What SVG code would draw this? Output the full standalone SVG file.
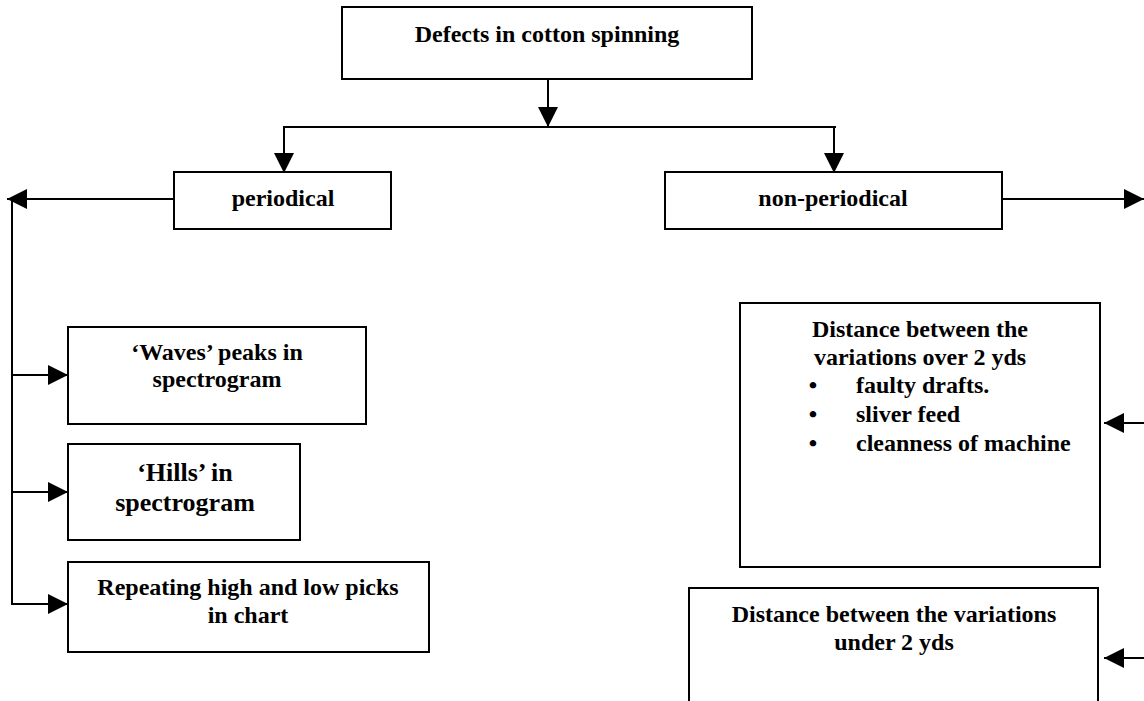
<svg xmlns="http://www.w3.org/2000/svg" width="1144" height="701" viewBox="0 0 1144 701">
  <style>
    .box { fill: #ffffff; stroke: #000000; stroke-width: 2; }
    .conn { fill: none; stroke: #000000; stroke-width: 2; }
    .t { font-family: "Liberation Serif", "Times New Roman", serif; font-weight: bold; font-size: 24px; fill: #000000; text-anchor: middle; }
    .tl { text-anchor: start; }
    .big { font-size: 26px; }
  </style>
  <defs>
    <marker id="arr" markerUnits="userSpaceOnUse" markerWidth="20" markerHeight="20" refX="20" refY="10" orient="auto" viewBox="0 0 20 20">
      <path d="M0,0 L20,10 L0,20 Z" fill="#000000"/>
    </marker>
  </defs>
  <rect width="1144" height="701" fill="#ffffff"/>

  <g id="connectors">
    <path class="conn" d="M548,79 V127" marker-end="url(#arr)"/>
    <path class="conn" d="M283,127 H836"/>
    <path class="conn" d="M284,127 V173" marker-end="url(#arr)"/>
    <path class="conn" d="M834,127 V173" marker-end="url(#arr)"/>
    <path class="conn" d="M174,199 H7" marker-end="url(#arr)"/>
    <path class="conn" d="M12,200 V604"/>
    <path class="conn" d="M11,375 H68" marker-end="url(#arr)"/>
    <path class="conn" d="M11,492 H68" marker-end="url(#arr)"/>
    <path class="conn" d="M11,604 H68" marker-end="url(#arr)"/>
    <path class="conn" d="M1003,199 H1144" marker-end="url(#arr)"/>
    <path class="conn" d="M1144,423 H1104" marker-end="url(#arr)"/>
    <path class="conn" d="M1144,658 H1104" marker-end="url(#arr)"/>
  </g>

  <g id="root">
    <rect class="box" x="342" y="7" width="410" height="72"/>
    <text class="t" x="547" y="42">Defects in cotton spinning</text>
  </g>

  <g id="periodical">
    <rect class="box" x="174" y="172" width="217" height="57"/>
    <text class="t" x="283" y="206">periodical</text>
  </g>

  <g id="non-periodical">
    <rect class="box" x="665" y="172" width="337" height="57"/>
    <text class="t" x="833" y="206">non-periodical</text>
  </g>

  <g id="waves">
    <rect class="box" x="68" y="327" width="298" height="97"/>
    <text class="t" x="217" y="360">‘Waves’ peaks in</text>
    <text class="t" x="217" y="387">spectrogram</text>
  </g>

  <g id="hills">
    <rect class="box" x="68" y="444" width="232" height="96"/>
    <text class="t big" x="185" y="481">‘Hills’ in</text>
    <text class="t big" x="185" y="511">spectrogram</text>
  </g>

  <g id="repeating">
    <rect class="box" x="68" y="562" width="361" height="90"/>
    <text class="t" x="248" y="595">Repeating high and low picks</text>
    <text class="t" x="248" y="623">in chart</text>
  </g>

  <g id="over-2-yds">
    <rect class="box" x="740" y="303" width="360" height="264"/>
    <text class="t" x="920" y="337">Distance between the</text>
    <text class="t" x="920" y="365">variations over 2 yds</text>
    <text class="t" x="813" y="393">•</text>
    <text class="t tl" x="856" y="393">faulty drafts.</text>
    <text class="t" x="813" y="422">•</text>
    <text class="t tl" x="856" y="422">sliver feed</text>
    <text class="t" x="813" y="451">•</text>
    <text class="t tl" x="856" y="451">cleanness of machine</text>
  </g>

  <g id="under-2-yds">
    <rect class="box" x="689" y="588" width="409" height="140"/>
    <text class="t" x="894" y="622">Distance between the variations</text>
    <text class="t" x="894" y="650">under 2 yds</text>
  </g>
</svg>
